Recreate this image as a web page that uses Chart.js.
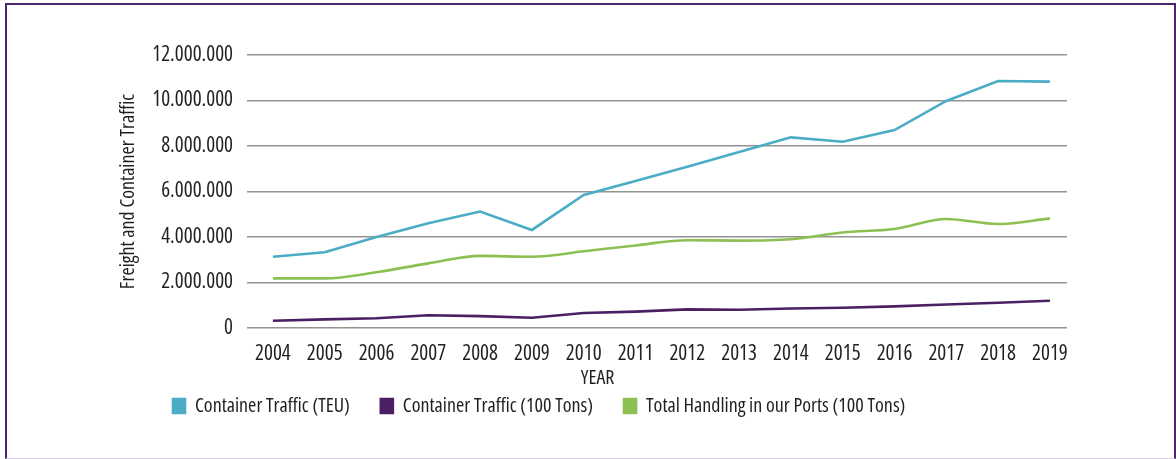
<!DOCTYPE html>
<html>
<head>
<meta charset="utf-8">
<script src="https://cdn.jsdelivr.net/npm/chart.js@4"></script>
<style>
    html, body { margin: 0; padding: 0; background: #fff; }
    body { width: 1176px; height: 459px; overflow: hidden; position: relative; }
    /* purple frame round the figure */
    .frame {
        position: absolute; left: 5px; top: 3px; right: 0; bottom: 0;
        border-left: 2px solid #4b2569; border-top: 2px solid #4b2569; border-right: 2px solid #4b2569;
        border-bottom: 1px solid #d9cfe3;
        box-sizing: border-box;
    }
    #wrap { position: absolute; left: 0; top: 0; width: 1176px; height: 459px; }
</style>
</head>
<body>
<div class="frame"></div>
<div id="wrap"><canvas id="trafficChart"></canvas></div>
<script>
// 연도
const years = [2004, 2005, 2006, 2007, 2008, 2009, 2010, 2011, 2012, 2013, 2014, 2015, 2016, 2017, 2018, 2019];

// 컨테이너 (TEU)
const containerTeu = [3130000, 3330000, 4000000, 4600000, 5120000, 4310000, 5850000, 6460000,
    7090000, 7740000, 8380000, 8190000, 8700000, 9980000, 10860000, 10830000];

// 컨테이너 (100 톤)
const containerTons = [320000, 380000, 430000, 560000, 520000, 450000, 660000, 720000,
    820000, 800000, 860000, 890000, 950000, 1030000, 1110000, 1200000];

// 항만 총 처리량 (100 톤)
const totalHandling = [2180000, 2180000, 2450000, 2840000, 3170000, 3130000, 3370000, 3630000,
    3860000, 3840000, 3900000, 4200000, 4350000, 4790000, 4570000, 4820000];

const yTicks = [0, 2000000, 4000000, 6000000, 8000000, 10000000, 12000000];

const seriesNames = ['Container Traffic (TEU)', 'Container Traffic (100 Tons)', 'Total Handling in our Ports (100 Tons)'];
const seriesColors = ['#4bacc6', '#4b1f63', '#8dc052'];

// 좁은 글꼴 (font-stretch 는 weight 자리에 넣음)
const FONT = "'Open Sans', sans-serif";
const NARROW = 'condensed';
const INK = '#231f20';

// 천 단위 점 구분
function dotted(v) {
    return String(v).replace(/\B(?=(\d{3})+(?!\d))/g, '.');
}

function toPoints(values) {
    return years.map((y, i) => ({ x: y, y: values[i] }));
}

// 범례 위치 보정
const legendNudge = {
    id: 'legendNudge',
    afterLayout(chart) {
        const lg = chart.legend;
        if (!lg) return;
        lg.left = 142;
        lg.top = 365;
    }
};

function createChart() {
    const ctx = document.getElementById('trafficChart');
    Chart.defaults.font.family = FONT;
    Chart.defaults.font.weight = NARROW;
    Chart.defaults.color = INK;

    new Chart(ctx, {
        type: 'line',
        data: {
            datasets: [
                {
                    label: seriesNames[0],
                    data: toPoints(containerTeu),
                    borderColor: seriesColors[0],
                    backgroundColor: seriesColors[0],
                    borderWidth: 2.6,
                    tension: 0
                },
                {
                    label: seriesNames[1],
                    data: toPoints(containerTons),
                    borderColor: seriesColors[1],
                    backgroundColor: seriesColors[1],
                    borderWidth: 2.6,
                    tension: 0
                },
                {
                    label: seriesNames[2],
                    data: toPoints(totalHandling),
                    borderColor: seriesColors[2],
                    backgroundColor: seriesColors[2],
                    borderWidth: 2.6,
                    cubicInterpolationMode: 'monotone'
                }
            ]
        },
        options: {
            responsive: true,
            maintainAspectRatio: false,
            animation: false,
            elements: { point: { radius: 0 } },
            layout: { padding: { left: 112, right: 109, top: 55, bottom: 8 } },
            scales: {
                x: {
                    type: 'linear',
                    min: 2003.5,
                    max: 2019.33,
                    grid: { display: false },
                    border: { display: false },
                    afterBuildTicks: scale => { scale.ticks = years.map(v => ({ value: v })); },
                    afterFit: scale => { scale.height = 62; },
                    ticks: {
                        autoSkip: false,
                        maxRotation: 0,
                        padding: 5,
                        font: { size: 21 },
                        callback: v => String(v)
                    },
                    title: {
                        display: true,
                        text: 'YEAR' + ' '.repeat(32),
                        font: { size: 20 },
                        padding: { top: 0, bottom: 0 }
                    }
                },
                y: {
                    min: 0,
                    max: 12000000,
                    afterBuildTicks: scale => { scale.ticks = yTicks.map(v => ({ value: v })); },
                    afterFit: scale => { scale.width = 135; },
                    grid: { color: '#939393', lineWidth: 1.5, drawTicks: false },
                    border: { display: false },
                    ticks: {
                        padding: 14,
                        font: { size: 21 },
                        callback: v => dotted(v)
                    },
                    title: {
                        display: true,
                        text: 'Freight and Container Traffic',
                        font: { size: 20 }
                    }
                }
            },
            plugins: {
                legend: {
                    position: 'bottom',
                    align: 'start',
                    labels: {
                        boxWidth: 12,
                        boxHeight: 14,
                        padding: 31,
                        font: { size: 20 },
                        color: INK
                    }
                },
                tooltip: { enabled: false }
            }
        },
        plugins: [legendNudge]
    });
}

document.addEventListener('DOMContentLoaded', createChart);
</script>
</body>
</html>
